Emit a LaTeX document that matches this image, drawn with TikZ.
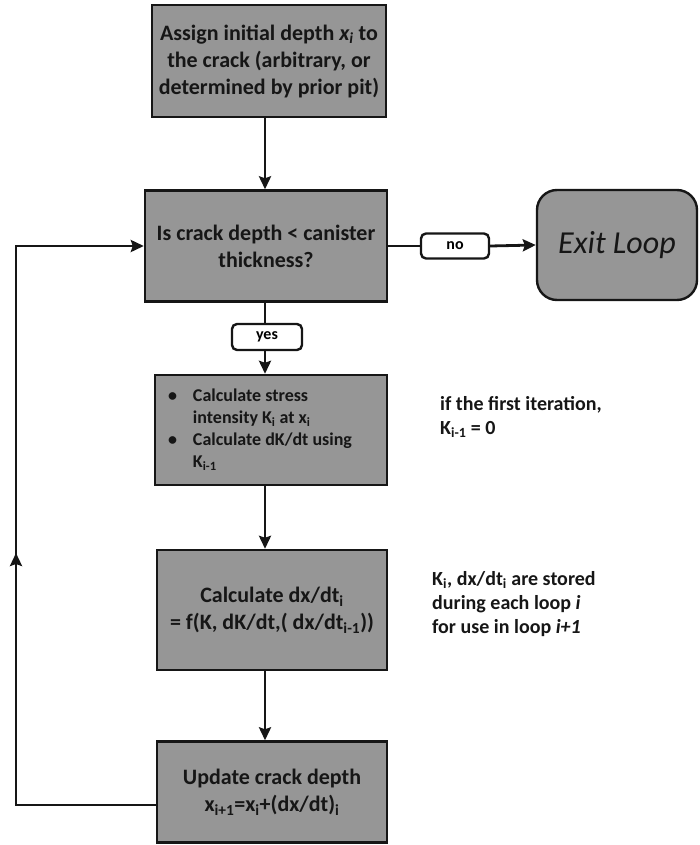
\documentclass[tikz,border=0pt]{standalone}
\usepackage{fontspec}
\setmainfont{Carlito}
\usetikzlibrary{arrows.meta}
\definecolor{boxgray}{RGB}{150,150,150}
\definecolor{inkc}{RGB}{22,22,22}
\tikzset{
  every picture/.style={x=1pt,y=-1pt},
  procbox/.style={draw=inkc, line width=2.4pt, fill=boxgray, text=inkc,
    inner sep=0pt, align=center, font=\bfseries\fontsize{22}{27}\selectfont},
  exitbox/.style={procbox, rounded corners=20pt, font=\itshape\fontsize{32}{38}\selectfont},
  tagbox/.style={draw=inkc, line width=2.4pt, fill=white, rounded corners=5pt,
    inner sep=0pt, font=\bfseries\fontsize{16}{18}\selectfont},
  note/.style={anchor=north west, align=left, text=inkc, inner sep=0pt,
    font=\bfseries\fontsize{20}{24}\selectfont},
  arr/.style={draw=inkc, line width=2.8pt, -{Stealth[length=13pt,width=12pt,inset=2pt]}},
  ln/.style={draw=inkc, line width=2.8pt}
}
\newcommand\lo[1]{\textsubscript{#1}}
\begin{document}
\begin{tikzpicture}
\useasboundingbox (0,0) rectangle (699,845);

% process steps
\node[procbox, minimum width=234pt, minimum height=112pt] (b1) at (269,61)
  {Assign initial depth \textit{x\lo{i}} to\\the crack (arbitrary, or\\determined by prior pit)};
\node[procbox, minimum width=242pt, minimum height=111pt] (b2) at (266,246)
  {Is crack depth < canister\\thickness?};
\node[exitbox, minimum width=160pt, minimum height=110pt] (exit) at (617,245) {Exit Loop};
\node[procbox, minimum width=232pt, minimum height=110pt,
      font=\bfseries\fontsize{18}{22}\selectfont] (b3) at (271,430)
  {\begin{tabular}{@{}l@{\hspace{16pt}}l@{\hspace{22pt}}}
   \textbullet & Calculate stress\\
               & intensity K\lo{i} at x\lo{i}\\
   \textbullet & Calculate dK/dt using\\
               & K\lo{i-1}
   \end{tabular}};
\node[procbox, minimum width=230pt, minimum height=120pt] (b4) at (272,610)
  {Calculate dx/dt\lo{i}\\= f(K, dK/dt,( dx/dt\lo{i-1}))};
\node[procbox, minimum width=230pt, minimum height=101pt] (b5) at (272,792)
  {Update crack depth\\x\lo{i+1}=x\lo{i}+(dx/dt)\lo{i}};

% branch labels
\node[tagbox, minimum width=68pt, minimum height=25pt] (no) at (455,246) {no};
\node[tagbox, minimum width=70pt, minimum height=26pt] (yes) at (267,337) {yes};

% side notes
\node[note] (n1) at (440,396) {if the first iteration,\\K\lo{i-1} = 0};
\node[note] (n2) at (432,571) {K\lo{i}, dx/dt\lo{i} are stored\\during each loop \textit{i}\\for use in loop \textit{i+1}};

% main spine
\coordinate (sp) at (265,0);
\draw[arr] (b1.south -| sp) -- (b2.north -| sp);
\draw[ln]  (b2.south -| sp) -- (yes.north -| sp);
\draw[arr] (yes.south -| sp) -- (b3.north -| sp);
\draw[arr] (b3.south -| sp) -- (b4.north -| sp);
\draw[arr] (b4.south -| sp) -- (b5.north -| sp);

% exit branch
\draw[ln]  (b2.east) -- (no.west);
\draw[arr] (no.east) -- (exit.west);

% feedback loop
\coordinate (lb) at (16,805);
\coordinate (lm) at (16,553);
\coordinate (lt) at (16,246);
\draw[ln] ([yshift=-13pt]b5.west) -- (lb) -- (lm);
\draw[arr] (lb) -- (lm);
\draw[arr] (lm) -- (lt) -- (b2.west);
\end{tikzpicture}
\end{document}
